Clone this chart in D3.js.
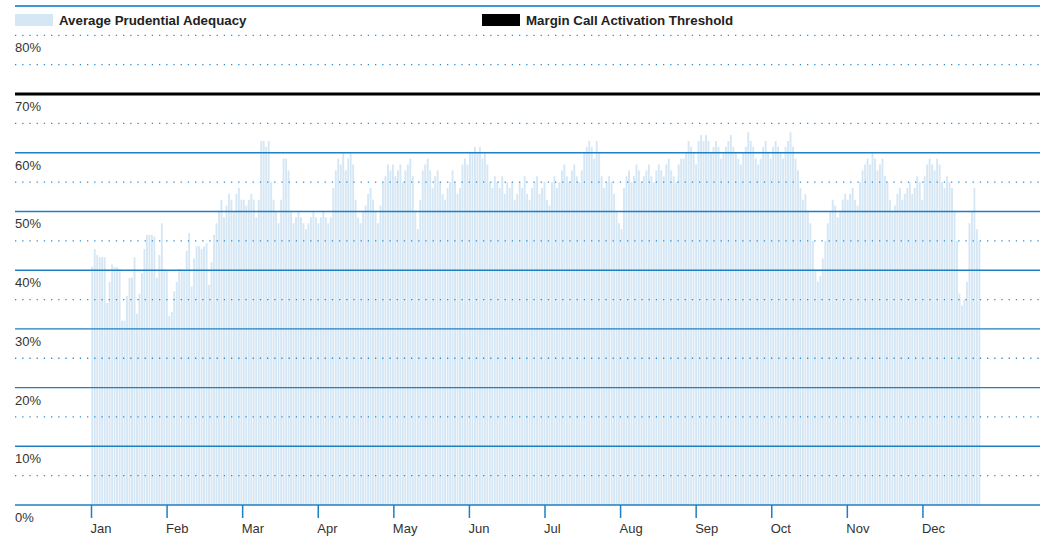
<!DOCTYPE html>
<html>
<head>
<meta charset="utf-8">
<script src="https://cdn.jsdelivr.net/npm/d3@7"></script>
<style>
  body { margin: 0; background: #fff; }
  text { font-family: "Liberation Sans", Arial, Helvetica, sans-serif; }
</style>
</head>
<body>
<div id="chart"></div>
<script>
// daily average prudential adequacy (%), Jan 1 onwards
var adequacy = [
  40.6, 43.6, 42.6, 42.2, 42.2, 42.2, 34.4, 38, 41, 40.5, 40.5, 40.2, 31.4, 31.4, 35.6, 38.7,
  38.7, 42.2, 32.6, 36, 39.5, 43.6, 46, 46, 46, 45.7, 38.7, 42.6, 48, 40.2, 40,
  32.2, 32.9, 36.4, 38, 40.2, 40.2, 40, 43.3, 46.3, 37.2, 42, 44.1, 44.1, 43.6, 44, 44.6,
  37.5, 41.4, 46, 48, 50, 52, 49, 51, 53, 52, 50, 53, 54, 52,
  52, 51, 52, 53, 52, 49, 52, 62, 62, 61, 62, 55, 52, 50, 48, 52, 59, 59, 57, 50, 48, 49,
  50, 49, 48, 47, 48, 49, 50, 49, 48,
  49, 50, 49, 48, 49, 54, 57, 59, 58, 60, 57, 59, 60, 58, 52, 49, 48, 50, 51, 53, 54, 52,
  50, 48, 51, 55, 56, 58, 57, 58,
  56, 57, 58, 55, 57, 58, 59, 56, 50, 47, 52, 57, 58, 59, 57, 54, 56, 57, 55, 53, 52, 54,
  55, 57, 55, 53, 54, 58, 59, 58, 60,
  60, 61, 60, 61, 59, 60, 58, 55, 54, 56, 55, 54, 56, 53, 55, 54, 55, 52, 53, 55, 54, 56,
  53, 52, 54, 55, 56, 53, 54, 55,
  52, 51, 55, 56, 54, 55, 57, 58, 56, 55, 57, 58, 56, 55, 57, 60, 61, 62, 61, 59, 62, 60,
  56, 54, 55, 56, 55, 53, 50, 48, 47,
  54, 56, 57, 55, 56, 58, 57, 55, 56, 57, 58, 56, 55, 57, 58, 57, 56, 58, 59, 57, 56, 55,
  58, 59, 59, 60, 62, 61, 60, 58,
  62, 63, 62, 63, 62, 60, 61, 62, 61, 59, 60, 61, 62, 63, 61, 60, 59, 58, 60, 61, 63.5, 62,
  61, 59, 58, 59, 61, 62, 60, 59, 61,
  62, 61, 60, 59, 61, 62, 63.5, 61, 59, 57, 54, 52, 53, 50, 48, 45, 40, 38, 39, 42, 45, 48,
  50, 52, 51, 49, 50, 52, 53, 52,
  53, 54, 52, 51, 55, 57, 58, 59, 58, 60, 59, 57, 58, 59, 56, 55, 52, 50, 51, 53, 54, 52,
  53, 54, 55, 53, 54, 56, 55, 52,
  56, 58, 59, 58, 57, 59, 58, 55, 54, 56, 55, 54, 50, 45, 36, 34, 35, 38, 48, 50, 54, 47, 45
];
var months = ["Jan", "Feb", "Mar", "Apr", "May", "Jun", "Jul", "Aug", "Sep", "Oct", "Nov", "Dec"];
var yMajor = [0, 10, 20, 30, 40, 50, 60, 70, 80];
var yMinor = [5, 15, 25, 35, 45, 55, 65, 75, 80];
var threshold = 70;
var yTop = 85;
var daysInYear = 365;
var legendItems = ["Average Prudential Adequacy", "Margin Call Activation Threshold"];

(function() {
  var width = 1044, height = 538;
  var gridLeft = 15, gridRight = 1040;
  var plotLeft = 91, plotRight = 998;
  var plotTop = 6, plotBottom = 505;

  var svg = d3.select("#chart").append("svg")
    .attr("width", width)
    .attr("height", height);

  var x = d3.scaleLinear().domain([0, daysInYear]).range([plotLeft, plotRight]);
  var y = d3.scaleLinear().domain([0, yTop]).range([plotBottom, plotTop]);

  // bars first, grid drawn over them
  svg.append("g").attr("class", "bars")
    .selectAll("rect")
    .data(adequacy)
    .enter().append("rect")
    .attr("x", function(d, i) { return x(i) + 0.3; })
    .attr("width", function(d, i) { return x(i + 1) - x(i) - 0.6; })
    .attr("y", function(d) { return y(d); })
    .attr("height", function(d) { return y(0) - y(d); })
    .attr("fill", "#d5e7f5");

  // dotted minor lines
  svg.append("g").selectAll("line")
    .data(yMinor)
    .enter().append("line")
    .attr("x1", gridLeft).attr("x2", gridRight)
    .attr("y1", function(d) { return y(d); })
    .attr("y2", function(d) { return y(d); })
    .attr("stroke", "#2b8fd4")
    .attr("stroke-width", 1.3)
    .attr("stroke-dasharray", "1.3,5.9");

  // solid major lines (80 is dotted in the original)
  svg.append("g").selectAll("line")
    .data(yMajor.filter(function(d) { return d < 80; }))
    .enter().append("line")
    .attr("x1", gridLeft).attr("x2", gridRight)
    .attr("y1", function(d) { return y(d); })
    .attr("y2", function(d) { return y(d); })
    .attr("stroke", "#1f7fc3")
    .attr("stroke-width", 1.4);

  // top rule
  svg.append("line")
    .attr("x1", gridLeft).attr("x2", gridRight)
    .attr("y1", y(yTop)).attr("y2", y(yTop))
    .attr("stroke", "#3d98d8")
    .attr("stroke-width", 2);

  // threshold
  svg.append("line")
    .attr("x1", gridLeft).attr("x2", gridRight)
    .attr("y1", y(threshold)).attr("y2", y(threshold))
    .attr("stroke", "#000")
    .attr("stroke-width", 3);

  // y labels sit under their line
  svg.append("g").selectAll("text")
    .data(yMajor)
    .enter().append("text")
    .attr("x", gridLeft)
    .attr("y", function(d) { return y(d) + 17; })
    .attr("font-size", 13)
    .attr("fill", "#333")
    .text(function(d) { return d + "%"; });

  // month axis, evenly spaced ticks
  var xAxis = d3.axisBottom(x)
    .tickValues(d3.range(12).map(function(m) { return m * daysInYear / 12; }))
    .tickFormat(function(d, i) { return months[i]; })
    .tickSize(13)
    .tickSizeOuter(0);

  var gx = svg.append("g")
    .attr("transform", "translate(0," + plotBottom + ")")
    .call(xAxis);
  gx.select(".domain").remove();
  gx.selectAll(".tick line").attr("stroke", "#1f7fc3").attr("stroke-width", 1.5);
  gx.selectAll(".tick text")
    .attr("text-anchor", "start")
    .attr("x", -1)
    .attr("y", 19)
    .attr("font-size", 13)
    .attr("font-family", "Liberation Sans, Arial, sans-serif")
    .attr("fill", "#333");

  // legend
  var legend = svg.append("g");
  var lx = [15, 482];
  legend.selectAll("rect")
    .data(legendItems)
    .enter().append("rect")
    .attr("x", function(d, i) { return lx[i]; })
    .attr("y", 14)
    .attr("width", 38)
    .attr("height", 12)
    .attr("fill", function(d, i) { return i === 0 ? "#d5e7f5" : "#000"; });
  legend.selectAll("text")
    .data(legendItems)
    .enter().append("text")
    .attr("x", function(d, i) { return lx[i] + 44; })
    .attr("y", 25)
    .attr("font-size", 13.3)
    .attr("font-weight", "bold")
    .attr("fill", "#222")
    .text(function(d) { return d; });
})();
</script>
</body>
</html>
